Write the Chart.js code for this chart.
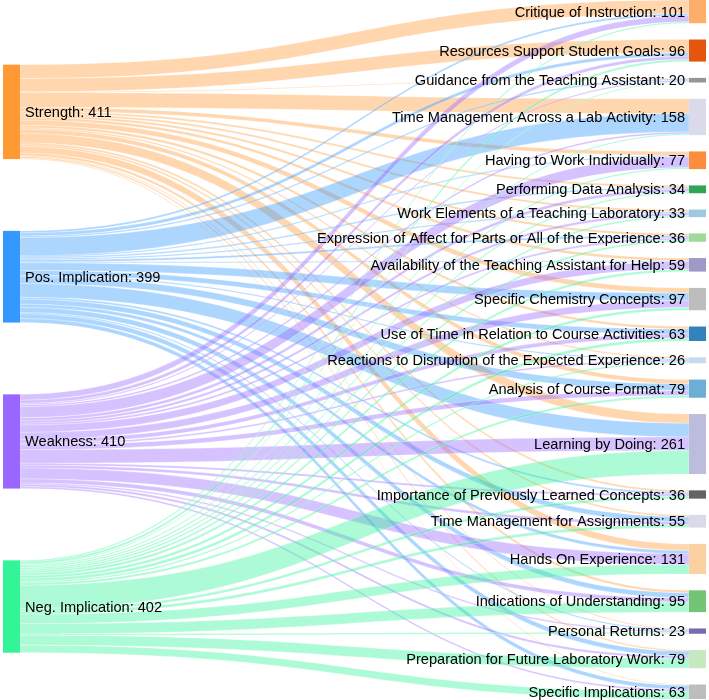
<!DOCTYPE html>
<html><head><meta charset="utf-8">
<script src="https://cdn.jsdelivr.net/npm/chart.js@4.4.1/dist/chart.umd.min.js"></script>
<style>html,body{margin:0;padding:0;background:#fff}#wrap{width:709px;height:700px;position:relative}</style>
</head><body><div id="wrap"><canvas id="c"></canvas></div>
<script>
// ---- data ----
const sourceLabels = ["Strength", "Pos. Implication", "Weakness", "Neg. Implication"];
const targetLabels = [
  "Critique of Instruction", "Resources Support Student Goals", "Guidance from the Teaching Assistant",
  "Time Management Across a Lab Activity", "Having to Work Individually", "Performing Data Analysis",
  "Work Elements of a Teaching Laboratory", "Expression of Affect for Parts or All of the Experience",
  "Availability of the Teaching Assistant for Help", "Specific Chemistry Concepts",
  "Use of Time in Relation to Course Activities", "Reactions to Disruption of the Expected Experience",
  "Analysis of Course Format", "Learning by Doing", "Importance of Previously Learned Concepts",
  "Time Management for Assignments", "Hands On Experience", "Indications of Understanding",
  "Personal Returns", "Preparation for Future Laboratory Work", "Specific Implications"
];
const flowsStrength = [60, 58, 4, 64, 17, 8, 9, 10, 12, 22, 11, 6, 19, 40, 8, 8, 29, 11, 5, 6, 4];
const flowsPos      = [9, 14, 6, 80, 5, 6, 6, 9, 4, 33, 22, 6, 29, 60, 8, 22, 14, 22, 6, 20, 18];
const flowsWeakness = [26, 14, 6, 8, 48, 13, 11, 8, 32, 30, 17, 7, 21, 59, 9, 12, 47, 18, 6, 10, 8];
const flowsNeg      = [6, 10, 4, 6, 7, 7, 7, 9, 11, 12, 13, 7, 10, 102, 11, 13, 41, 44, 6, 43, 33];

// ---- styles ----
const sourceColors = ["#ff9933", "#3399ff", "#9966ff", "#33f598"];
const targetColors = ["#fdae6b", "#e6550d", "#969696", "#dadaeb", "#fd8d3c", "#31a354", "#9ecae1",
  "#a1d99b", "#9e9ac8", "#bdbdbd", "#3182bd", "#c6dbef", "#6baed6", "#bcbddc", "#636363",
  "#dadaeb", "#fdd0a2", "#74c476", "#756bb1", "#c7e9c0", "#bdbdbd"];
const PAD = 71;          // node padding, in value units
const LEFT_SHIFT = 40;   // vertical offset of the left column, in value units
const NODE_W = 17;       // node thickness, px
const FONT = '14.6px "Liberation Sans", Arial, sans-serif';

const flows = [flowsStrength, flowsPos, flowsWeakness, flowsNeg];
const sum = a => a.reduce((s, v) => s + v, 0);
const sourceTotals = flows.map(sum);
const targetTotals = targetLabels.map((_, j) => sum(flows.map(f => f[j])));
const grand = sum(sourceTotals);
const YMAX = grand + (targetLabels.length - 1) * PAD;

function rgba(hex, a) {
  const n = parseInt(hex.slice(1), 16);
  return `rgba(${(n >> 16) & 255},${(n >> 8) & 255},${n & 255},${a})`;
}

// layout in value units
function layout() {
  const right = [];
  let y = 0;
  targetTotals.forEach(v => { right.push({ top: y, bot: y + v }); y += v + PAD; });
  const left = [];
  const n = sourceTotals.length;
  const r = (YMAX - grand - (n - 1) * PAD) / (n + 1);
  y = LEFT_SHIFT;
  sourceTotals.forEach((v, i) => {
    const top = y + r * (i + 1);
    left.push({ top, bot: top + v });
    y += v + PAD;
  });
  return { left, right };
}

const sankeyPlugin = {
  id: 'sankeyDraw',
  afterDatasetsDraw(chart) {
    const ctx = chart.ctx, xs = chart.scales.x, ys = chart.scales.y;
    const L = layout();
    const xl0 = xs.getPixelForValue(0), xl1 = xl0 + NODE_W;
    const xr1 = xs.getPixelForValue(1), xr0 = xr1 - NODE_W;
    const xm = (xl1 + xr0) / 2;
    const py = v => ys.getPixelForValue(v);
    const srcOff = L.left.map(n => n.top);
    const tgtOff = L.right.map(n => n.top);
    const links = [];
    flows.forEach((f, i) => {
      f.forEach((v, j) => {
        if (!v) return;
        links.push({ i, j, v, s0: srcOff[i], s1: srcOff[i] + v });
        srcOff[i] += v;
      });
    });
    for (let j = 0; j < targetLabels.length; j++) {
      links.filter(l => l.j === j).sort((a, b) => a.i - b.i).forEach(l => {
        l.t0 = tgtOff[j]; l.t1 = tgtOff[j] + l.v; tgtOff[j] += l.v;
      });
    }
    ctx.save();
    links.forEach(l => {
      const a0 = py(l.s0), a1 = py(l.s1), b0 = py(l.t0), b1 = py(l.t1);
      ctx.beginPath();
      ctx.moveTo(xl1, a0);
      ctx.bezierCurveTo(xm, a0, xm, b0, xr0, b0);
      ctx.lineTo(xr0, b1);
      ctx.bezierCurveTo(xm, b1, xm, a1, xl1, a1);
      ctx.closePath();
      ctx.fillStyle = rgba(sourceColors[l.i], 0.4);
      ctx.fill();
      ctx.strokeStyle = 'rgba(255,255,255,0.55)';
      ctx.lineWidth = 0.5;
      ctx.stroke();
    });
    L.left.forEach((n, i) => {
      ctx.fillStyle = sourceColors[i];
      ctx.fillRect(xl0, py(n.top), NODE_W, py(n.bot) - py(n.top));
    });
    L.right.forEach((n, j) => {
      ctx.fillStyle = targetColors[j];
      ctx.fillRect(xr0, py(n.top), NODE_W, py(n.bot) - py(n.top));
    });
    ctx.font = FONT;
    ctx.fillStyle = '#000';
    ctx.textBaseline = 'middle';
    ctx.textAlign = 'left';
    L.left.forEach((n, i) => {
      ctx.fillText(`${sourceLabels[i]}: ${sourceTotals[i]}`, xl1 + 5, (py(n.top) + py(n.bot)) / 2 + 1);
    });
    ctx.textAlign = 'right';
    L.right.forEach((n, j) => {
      ctx.fillText(`${targetLabels[j]}: ${targetTotals[j]}`, xr0 - 4, (py(n.top) + py(n.bot)) / 2 + 1);
    });
    ctx.restore();
  }
};

new Chart(document.getElementById('c'), {
  type: 'scatter',
  data: { datasets: [{ data: [], showLine: false }] },
  options: {
    responsive: true,
    maintainAspectRatio: false,
    animation: false,
    layout: { padding: { left: 3, right: 3, top: 0, bottom: 1 } },
    plugins: { legend: { display: false }, tooltip: { enabled: false } },
    scales: {
      x: { type: 'linear', min: 0, max: 1, display: false },
      y: { type: 'linear', min: 0, max: YMAX, reverse: true, display: false }
    }
  },
  plugins: [sankeyPlugin]
});
</script>
</body></html>
